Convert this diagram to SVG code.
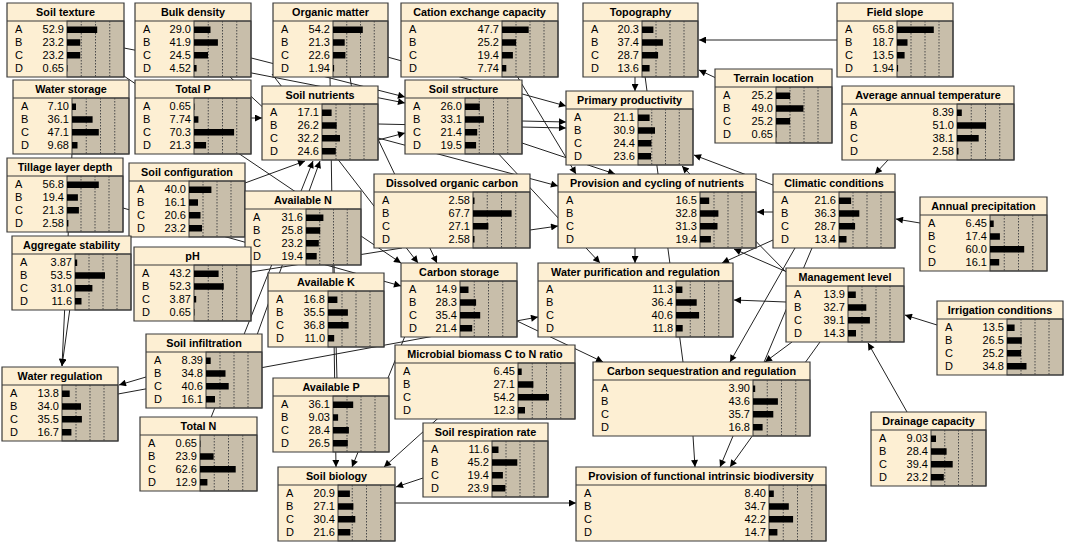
<svg xmlns="http://www.w3.org/2000/svg" width="1065" height="544" viewBox="0 0 1065 544">
<style>
.box{fill:#FDEFD3}
.bg{fill:#C8BEAA;stroke:#3a3a3a;stroke-width:1}
.grid{stroke:#4a4a4a;stroke-width:1;stroke-dasharray:1.5 1.5;fill:none}
.bar{fill:#000}
.bdr{fill:none;stroke:#3a3a3a;stroke-width:1.2}
.t{font-family:"Liberation Sans",Arial,sans-serif;font-weight:bold;font-size:10.8px;text-anchor:middle;fill:#000}
.s{font-family:"Liberation Sans",Arial,sans-serif;font-size:11px;fill:#000}
.n{font-family:"Liberation Sans",Arial,sans-serif;font-size:11px;text-anchor:end;fill:#000}
.c{stroke:#222;stroke-width:1;fill:none}
.a{marker-end:url(#ah)}
</style>
<defs>
<marker id="ah" viewBox="0 0 10 10" refX="10" refY="5" markerWidth="9" markerHeight="7" markerUnits="userSpaceOnUse" orient="auto"><path d="M0,0L10,5L0,10z" fill="#000"/></marker>
</defs>
<rect width="1065" height="544" fill="#fff"/>
<g id="connectors">
<path class="c a" d="M837 40L699 40"/>
<path class="c a" d="M716 78L699 70"/>
<path class="c a" d="M635 76L635 91"/>
<path class="c a" d="M773 185L694 155"/>
<path class="c a" d="M888 160L875 174"/>
<path class="c a" d="M920 223L896 219"/>
<path class="c a" d="M773 212L757 212"/>
<path class="c a" d="M773 240L722 263"/>
<path class="c a" d="M787 272L734 249"/>
<path class="c a" d="M786 302L734 300"/>
<path class="c a" d="M937 325L905 315"/>
<path class="c a" d="M907 412L868 343"/>
<path class="c a" d="M795 248L730 362"/>
<path class="c a" d="M792 342L765 362"/>
<path class="c a" d="M812 248L720 467"/>
<path class="c a" d="M820 342L730 467"/>
<path class="c a" d="M693 436L695 467"/>
<path class="c a" d="M395 503L576 503"/>
<path class="c a" d="M423 478L396 487"/>
<path class="c a" d="M445 412L384 467"/>
<path class="c a" d="M330 77L336 467"/>
<path class="c a" d="M405 336L352 467"/>
<path class="c" d="M334 264L337 380"/>
<path class="c a" d="M517 321L603 362"/>
<path class="c a" d="M118 394L538 317"/>
<path class="c a" d="M146 377L119 385"/>
<path class="c a" d="M72 153L62 366"/>
<path class="c a" d="M70 308L62 366"/>
<path class="c a" d="M210 420L313 161"/>
<path class="c a" d="M245 183L305 161"/>
<path class="c a" d="M257 335L320 161"/>
<path class="c a" d="M251 118L262 118"/>
<path class="c a" d="M124 48L405 103"/>
<path class="c a" d="M200 45L405 97"/>
<path class="c a" d="M378 140L405 133"/>
<path class="c a" d="M340 44L566 106"/>
<path class="c a" d="M522 121L566 122"/>
<path class="c a" d="M378 124L566 128"/>
<path class="c a" d="M517 76L576 174"/>
<path class="c a" d="M522 143L615 174"/>
<path class="c a" d="M378 138L558 186"/>
<path class="c a" d="M530 230L558 226"/>
<path class="c a" d="M495 150L600 263"/>
<path class="c a" d="M635 248L635 263"/>
<path class="c a" d="M787 273L682 166"/>
<path class="c" d="M645 76L683 362"/>
<path class="c a" d="M118 72L401 263"/>
<path class="c a" d="M272 74L418 263"/>
<path class="c a" d="M376 135L437 263"/>
<path class="c a" d="M123 208L401 286"/>
<path class="c" d="M251 272L402 248"/>
<path class="c" d="M230 77L268 112"/>
<path class="c" d="M350 77L352 90"/>
</g>

<g id="soil-texture" transform="translate(7,3)">
<rect class="box" width="117" height="74"/>
<rect class="bg" x="60" y="18" width="57" height="56"/>
<path class="grid" d="M74.25 18V74M88.5 18V74M102.75 18V74"/>
<path class="bar" d="M60 23.5h30.2v6.5h-30.2zM60 36.3h13.2v6.5h-13.2zM60 49.1h13.2v6.5h-13.2zM60 61.9h0.4v6.5h-0.4z"/>
<text class="t" x="58.5" y="13.2">Soil texture</text>
<text class="s"><tspan x="8" y="30.2">A</tspan><tspan x="8" y="43">B</tspan><tspan x="8" y="55.8">C</tspan><tspan x="8" y="68.6">D</tspan></text>
<text class="n"><tspan x="57" y="30.2">52.9</tspan><tspan x="57" y="43">23.2</tspan><tspan x="57" y="55.8">23.2</tspan><tspan x="57" y="68.6">0.65</tspan></text>
<path class="bdr" d="M0 0H117V74H0ZM0 18H117"/>
</g>

<g id="bulk-density" transform="translate(135,3)">
<rect class="box" width="116" height="74"/>
<rect class="bg" x="59" y="18" width="57" height="56"/>
<path class="grid" d="M73.25 18V74M87.5 18V74M101.75 18V74"/>
<path class="bar" d="M59 23.5h16.5v6.5h-16.5zM59 36.3h23.9v6.5h-23.9zM59 49.1h14v6.5h-14zM59 61.9h2.6v6.5h-2.6z"/>
<text class="t" x="58" y="13.2">Bulk density</text>
<text class="s"><tspan x="8" y="30.2">A</tspan><tspan x="8" y="43">B</tspan><tspan x="8" y="55.8">C</tspan><tspan x="8" y="68.6">D</tspan></text>
<text class="n"><tspan x="56" y="30.2">29.0</tspan><tspan x="56" y="43">41.9</tspan><tspan x="56" y="55.8">24.5</tspan><tspan x="56" y="68.6">4.52</tspan></text>
<path class="bdr" d="M0 0H116V74H0ZM0 18H116"/>
</g>

<g id="organic-matter" transform="translate(273,3)">
<rect class="box" width="115" height="74"/>
<rect class="bg" x="60" y="18" width="55" height="56"/>
<path class="grid" d="M73.75 18V74M87.5 18V74M101.25 18V74"/>
<path class="bar" d="M60 23.5h29.8v6.5h-29.8zM60 36.3h11.7v6.5h-11.7zM60 49.1h12.4v6.5h-12.4zM60 61.9h1.1v6.5h-1.1z"/>
<text class="t" x="57.5" y="13.2">Organic matter</text>
<text class="s"><tspan x="8" y="30.2">A</tspan><tspan x="8" y="43">B</tspan><tspan x="8" y="55.8">C</tspan><tspan x="8" y="68.6">D</tspan></text>
<text class="n"><tspan x="57" y="30.2">54.2</tspan><tspan x="57" y="43">21.3</tspan><tspan x="57" y="55.8">22.6</tspan><tspan x="57" y="68.6">1.94</tspan></text>
<path class="bdr" d="M0 0H115V74H0ZM0 18H115"/>
</g>

<g id="cation-exchange-capacity" transform="translate(401,3)">
<rect class="box" width="157" height="74"/>
<rect class="bg" x="101" y="18" width="56" height="56"/>
<path class="grid" d="M115 18V74M129 18V74M143 18V74"/>
<path class="bar" d="M101 23.5h26.7v6.5h-26.7zM101 36.3h14.1v6.5h-14.1zM101 49.1h10.9v6.5h-10.9zM101 61.9h4.3v6.5h-4.3z"/>
<text class="t" x="78.5" y="13.2">Cation exchange capacity</text>
<text class="s"><tspan x="8" y="30.2">A</tspan><tspan x="8" y="43">B</tspan><tspan x="8" y="55.8">C</tspan><tspan x="8" y="68.6">D</tspan></text>
<text class="n"><tspan x="98" y="30.2">47.7</tspan><tspan x="98" y="43">25.2</tspan><tspan x="98" y="55.8">19.4</tspan><tspan x="98" y="68.6">7.74</tspan></text>
<path class="bdr" d="M0 0H157V74H0ZM0 18H157"/>
</g>

<g id="topography" transform="translate(583,3)">
<rect class="box" width="115" height="74"/>
<rect class="bg" x="59" y="18" width="56" height="56"/>
<path class="grid" d="M73 18V74M87 18V74M101 18V74"/>
<path class="bar" d="M59 23.5h11.4v6.5h-11.4zM59 36.3h20.9v6.5h-20.9zM59 49.1h16.1v6.5h-16.1zM59 61.9h7.6v6.5h-7.6z"/>
<text class="t" x="57.5" y="13.2">Topography</text>
<text class="s"><tspan x="8" y="30.2">A</tspan><tspan x="8" y="43">B</tspan><tspan x="8" y="55.8">C</tspan><tspan x="8" y="68.6">D</tspan></text>
<text class="n"><tspan x="56" y="30.2">20.3</tspan><tspan x="56" y="43">37.4</tspan><tspan x="56" y="55.8">28.7</tspan><tspan x="56" y="68.6">13.6</tspan></text>
<path class="bdr" d="M0 0H115V74H0ZM0 18H115"/>
</g>

<g id="field-slope" transform="translate(837,3)">
<rect class="box" width="116" height="74"/>
<rect class="bg" x="60" y="18" width="56" height="56"/>
<path class="grid" d="M74 18V74M88 18V74M102 18V74"/>
<path class="bar" d="M60 23.5h36.8v6.5h-36.8zM60 36.3h10.5v6.5h-10.5zM60 49.1h7.6v6.5h-7.6zM60 61.9h1.1v6.5h-1.1z"/>
<text class="t" x="58" y="13.2">Field slope</text>
<text class="s"><tspan x="8" y="30.2">A</tspan><tspan x="8" y="43">B</tspan><tspan x="8" y="55.8">C</tspan><tspan x="8" y="68.6">D</tspan></text>
<text class="n"><tspan x="57" y="30.2">65.8</tspan><tspan x="57" y="43">18.7</tspan><tspan x="57" y="55.8">13.5</tspan><tspan x="57" y="68.6">1.94</tspan></text>
<path class="bdr" d="M0 0H116V74H0ZM0 18H116"/>
</g>

<g id="terrain-location" transform="translate(715,69)">
<rect class="box" width="117" height="74"/>
<rect class="bg" x="61" y="18" width="56" height="56"/>
<path class="grid" d="M75 18V74M89 18V74M103 18V74"/>
<path class="bar" d="M61 23.5h14.1v6.5h-14.1zM61 36.3h27.4v6.5h-27.4zM61 49.1h14.1v6.5h-14.1zM61 61.9h0.4v6.5h-0.4z"/>
<text class="t" x="58.5" y="13.2">Terrain location</text>
<text class="s"><tspan x="8" y="30.2">A</tspan><tspan x="8" y="43">B</tspan><tspan x="8" y="55.8">C</tspan><tspan x="8" y="68.6">D</tspan></text>
<text class="n"><tspan x="58" y="30.2">25.2</tspan><tspan x="58" y="43">49.0</tspan><tspan x="58" y="55.8">25.2</tspan><tspan x="58" y="68.6">0.65</tspan></text>
<path class="bdr" d="M0 0H117V74H0ZM0 18H117"/>
</g>

<g id="average-annual-temperature" transform="translate(842,86)">
<rect class="box" width="172" height="74"/>
<rect class="bg" x="115" y="18" width="57" height="56"/>
<path class="grid" d="M129.25 18V74M143.5 18V74M157.75 18V74"/>
<path class="bar" d="M115 23.5h4.8v6.5h-4.8zM115 36.3h29.1v6.5h-29.1zM115 49.1h21.7v6.5h-21.7zM115 61.9h1.5v6.5h-1.5z"/>
<text class="t" x="86" y="13.2">Average annual temperature</text>
<text class="s"><tspan x="8" y="30.2">A</tspan><tspan x="8" y="43">B</tspan><tspan x="8" y="55.8">C</tspan><tspan x="8" y="68.6">D</tspan></text>
<text class="n"><tspan x="112" y="30.2">8.39</tspan><tspan x="112" y="43">51.0</tspan><tspan x="112" y="55.8">38.1</tspan><tspan x="112" y="68.6">2.58</tspan></text>
<path class="bdr" d="M0 0H172V74H0ZM0 18H172"/>
</g>

<g id="water-storage" transform="translate(13,80)">
<rect class="box" width="116" height="74"/>
<rect class="bg" x="59" y="18" width="57" height="56"/>
<path class="grid" d="M73.25 18V74M87.5 18V74M101.75 18V74"/>
<path class="bar" d="M59 23.5h4v6.5h-4zM59 36.3h20.6v6.5h-20.6zM59 49.1h26.8v6.5h-26.8zM59 61.9h5.5v6.5h-5.5z"/>
<text class="t" x="58" y="13.2">Water storage</text>
<text class="s"><tspan x="8" y="30.2">A</tspan><tspan x="8" y="43">B</tspan><tspan x="8" y="55.8">C</tspan><tspan x="8" y="68.6">D</tspan></text>
<text class="n"><tspan x="56" y="30.2">7.10</tspan><tspan x="56" y="43">36.1</tspan><tspan x="56" y="55.8">47.1</tspan><tspan x="56" y="68.6">9.68</tspan></text>
<path class="bdr" d="M0 0H116V74H0ZM0 18H116"/>
</g>

<g id="total-p" transform="translate(135,80)">
<rect class="box" width="116" height="74"/>
<rect class="bg" x="59" y="18" width="57" height="56"/>
<path class="grid" d="M73.25 18V74M87.5 18V74M101.75 18V74"/>
<path class="bar" d="M59 23.5h0.4v6.5h-0.4zM59 36.3h4.4v6.5h-4.4zM59 49.1h40.1v6.5h-40.1zM59 61.9h12.1v6.5h-12.1z"/>
<text class="t" x="58" y="13.2">Total P</text>
<text class="s"><tspan x="8" y="30.2">A</tspan><tspan x="8" y="43">B</tspan><tspan x="8" y="55.8">C</tspan><tspan x="8" y="68.6">D</tspan></text>
<text class="n"><tspan x="56" y="30.2">0.65</tspan><tspan x="56" y="43">7.74</tspan><tspan x="56" y="55.8">70.3</tspan><tspan x="56" y="68.6">21.3</tspan></text>
<path class="bdr" d="M0 0H116V74H0ZM0 18H116"/>
</g>

<g id="soil-nutrients" transform="translate(262,86)">
<rect class="box" width="116" height="74"/>
<rect class="bg" x="60" y="18" width="56" height="56"/>
<path class="grid" d="M74 18V74M88 18V74M102 18V74"/>
<path class="bar" d="M60 23.5h9.6v6.5h-9.6zM60 36.3h14.7v6.5h-14.7zM60 49.1h18v6.5h-18zM60 61.9h13.8v6.5h-13.8z"/>
<text class="t" x="58" y="13.2">Soil nutrients</text>
<text class="s"><tspan x="8" y="30.2">A</tspan><tspan x="8" y="43">B</tspan><tspan x="8" y="55.8">C</tspan><tspan x="8" y="68.6">D</tspan></text>
<text class="n"><tspan x="57" y="30.2">17.1</tspan><tspan x="57" y="43">26.2</tspan><tspan x="57" y="55.8">32.2</tspan><tspan x="57" y="68.6">24.6</tspan></text>
<path class="bdr" d="M0 0H116V74H0ZM0 18H116"/>
</g>

<g id="soil-structure" transform="translate(405,80)">
<rect class="box" width="117" height="74"/>
<rect class="bg" x="60" y="18" width="57" height="56"/>
<path class="grid" d="M74.25 18V74M88.5 18V74M102.75 18V74"/>
<path class="bar" d="M60 23.5h14.8v6.5h-14.8zM60 36.3h18.9v6.5h-18.9zM60 49.1h12.2v6.5h-12.2zM60 61.9h11.1v6.5h-11.1z"/>
<text class="t" x="58.5" y="13.2">Soil structure</text>
<text class="s"><tspan x="8" y="30.2">A</tspan><tspan x="8" y="43">B</tspan><tspan x="8" y="55.8">C</tspan><tspan x="8" y="68.6">D</tspan></text>
<text class="n"><tspan x="57" y="30.2">26.0</tspan><tspan x="57" y="43">33.1</tspan><tspan x="57" y="55.8">21.4</tspan><tspan x="57" y="68.6">19.5</tspan></text>
<path class="bdr" d="M0 0H117V74H0ZM0 18H117"/>
</g>

<g id="primary-productivity" transform="translate(566,91)">
<rect class="box" width="127" height="74"/>
<rect class="bg" x="72" y="18" width="55" height="56"/>
<path class="grid" d="M85.75 18V74M99.5 18V74M113.25 18V74"/>
<path class="bar" d="M72 23.5h11.6v6.5h-11.6zM72 36.3h17v6.5h-17zM72 49.1h13.4v6.5h-13.4zM72 61.9h13v6.5h-13z"/>
<text class="t" x="63.5" y="13.2">Primary productivity</text>
<text class="s"><tspan x="8" y="30.2">A</tspan><tspan x="8" y="43">B</tspan><tspan x="8" y="55.8">C</tspan><tspan x="8" y="68.6">D</tspan></text>
<text class="n"><tspan x="69" y="30.2">21.1</tspan><tspan x="69" y="43">30.9</tspan><tspan x="69" y="55.8">24.4</tspan><tspan x="69" y="68.6">23.6</tspan></text>
<path class="bdr" d="M0 0H127V74H0ZM0 18H127"/>
</g>

<g id="tillage-layer-depth" transform="translate(7,158)">
<rect class="box" width="116" height="74"/>
<rect class="bg" x="60" y="18" width="56" height="56"/>
<path class="grid" d="M74 18V74M88 18V74M102 18V74"/>
<path class="bar" d="M60 23.5h31.8v6.5h-31.8zM60 36.3h10.9v6.5h-10.9zM60 49.1h11.9v6.5h-11.9zM60 61.9h1.4v6.5h-1.4z"/>
<text class="t" x="58" y="13.2">Tillage layer depth</text>
<text class="s"><tspan x="8" y="30.2">A</tspan><tspan x="8" y="43">B</tspan><tspan x="8" y="55.8">C</tspan><tspan x="8" y="68.6">D</tspan></text>
<text class="n"><tspan x="57" y="30.2">56.8</tspan><tspan x="57" y="43">19.4</tspan><tspan x="57" y="55.8">21.3</tspan><tspan x="57" y="68.6">2.58</tspan></text>
<path class="bdr" d="M0 0H116V74H0ZM0 18H116"/>
</g>

<g id="soil-configuration" transform="translate(129,163)">
<rect class="box" width="116" height="74"/>
<rect class="bg" x="60" y="18" width="56" height="56"/>
<path class="grid" d="M74 18V74M88 18V74M102 18V74"/>
<path class="bar" d="M60 23.5h22.4v6.5h-22.4zM60 36.3h9v6.5h-9zM60 49.1h11.5v6.5h-11.5zM60 61.9h13v6.5h-13z"/>
<text class="t" x="58" y="13.2">Soil configuration</text>
<text class="s"><tspan x="8" y="30.2">A</tspan><tspan x="8" y="43">B</tspan><tspan x="8" y="55.8">C</tspan><tspan x="8" y="68.6">D</tspan></text>
<text class="n"><tspan x="57" y="30.2">40.0</tspan><tspan x="57" y="43">16.1</tspan><tspan x="57" y="55.8">20.6</tspan><tspan x="57" y="68.6">23.2</tspan></text>
<path class="bdr" d="M0 0H116V74H0ZM0 18H116"/>
</g>

<g id="available-n" transform="translate(245,191)">
<rect class="box" width="116" height="74"/>
<rect class="bg" x="61" y="18" width="55" height="56"/>
<path class="grid" d="M74.75 18V74M88.5 18V74M102.25 18V74"/>
<path class="bar" d="M61 23.5h17.4v6.5h-17.4zM61 36.3h14.2v6.5h-14.2zM61 49.1h12.8v6.5h-12.8zM61 61.9h10.7v6.5h-10.7z"/>
<text class="t" x="58" y="13.2">Available N</text>
<text class="s"><tspan x="8" y="30.2">A</tspan><tspan x="8" y="43">B</tspan><tspan x="8" y="55.8">C</tspan><tspan x="8" y="68.6">D</tspan></text>
<text class="n"><tspan x="58" y="30.2">31.6</tspan><tspan x="58" y="43">25.8</tspan><tspan x="58" y="55.8">23.2</tspan><tspan x="58" y="68.6">19.4</tspan></text>
<path class="bdr" d="M0 0H116V74H0ZM0 18H116"/>
</g>

<g id="aggregate-stability" transform="translate(12,236)">
<rect class="box" width="119" height="74"/>
<rect class="bg" x="63" y="18" width="56" height="56"/>
<path class="grid" d="M77 18V74M91 18V74M105 18V74"/>
<path class="bar" d="M63 23.5h2.2v6.5h-2.2zM63 36.3h30v6.5h-30zM63 49.1h17.4v6.5h-17.4zM63 61.9h6.5v6.5h-6.5z"/>
<text class="t" x="59.5" y="13.2">Aggregate stability</text>
<text class="s"><tspan x="8" y="30.2">A</tspan><tspan x="8" y="43">B</tspan><tspan x="8" y="55.8">C</tspan><tspan x="8" y="68.6">D</tspan></text>
<text class="n"><tspan x="60" y="30.2">3.87</tspan><tspan x="60" y="43">53.5</tspan><tspan x="60" y="55.8">31.0</tspan><tspan x="60" y="68.6">11.6</tspan></text>
<path class="bdr" d="M0 0H119V74H0ZM0 18H119"/>
</g>

<g id="ph" transform="translate(134,247)">
<rect class="box" width="117" height="74"/>
<rect class="bg" x="60" y="18" width="57" height="56"/>
<path class="grid" d="M74.25 18V74M88.5 18V74M102.75 18V74"/>
<path class="bar" d="M60 23.5h24.6v6.5h-24.6zM60 36.3h29.8v6.5h-29.8zM60 49.1h2.2v6.5h-2.2zM60 61.9h0.4v6.5h-0.4z"/>
<text class="t" x="58.5" y="13.2">pH</text>
<text class="s"><tspan x="8" y="30.2">A</tspan><tspan x="8" y="43">B</tspan><tspan x="8" y="55.8">C</tspan><tspan x="8" y="68.6">D</tspan></text>
<text class="n"><tspan x="57" y="30.2">43.2</tspan><tspan x="57" y="43">52.3</tspan><tspan x="57" y="55.8">3.87</tspan><tspan x="57" y="68.6">0.65</tspan></text>
<path class="bdr" d="M0 0H117V74H0ZM0 18H117"/>
</g>

<g id="available-k" transform="translate(268,273)">
<rect class="box" width="116" height="74"/>
<rect class="bg" x="60" y="18" width="56" height="56"/>
<path class="grid" d="M74 18V74M88 18V74M102 18V74"/>
<path class="bar" d="M60 23.5h9.4v6.5h-9.4zM60 36.3h19.9v6.5h-19.9zM60 49.1h20.6v6.5h-20.6zM60 61.9h6.2v6.5h-6.2z"/>
<text class="t" x="58" y="13.2">Available K</text>
<text class="s"><tspan x="8" y="30.2">A</tspan><tspan x="8" y="43">B</tspan><tspan x="8" y="55.8">C</tspan><tspan x="8" y="68.6">D</tspan></text>
<text class="n"><tspan x="57" y="30.2">16.8</tspan><tspan x="57" y="43">35.5</tspan><tspan x="57" y="55.8">36.8</tspan><tspan x="57" y="68.6">11.0</tspan></text>
<path class="bdr" d="M0 0H116V74H0ZM0 18H116"/>
</g>

<g id="dissolved-organic-carbon" transform="translate(374,174)">
<rect class="box" width="156" height="74"/>
<rect class="bg" x="99" y="18" width="57" height="56"/>
<path class="grid" d="M113.25 18V74M127.5 18V74M141.75 18V74"/>
<path class="bar" d="M99 23.5h1.5v6.5h-1.5zM99 36.3h38.6v6.5h-38.6zM99 49.1h15.4v6.5h-15.4zM99 61.9h1.5v6.5h-1.5z"/>
<text class="t" x="78" y="13.2">Dissolved organic carbon</text>
<text class="s"><tspan x="8" y="30.2">A</tspan><tspan x="8" y="43">B</tspan><tspan x="8" y="55.8">C</tspan><tspan x="8" y="68.6">D</tspan></text>
<text class="n"><tspan x="96" y="30.2">2.58</tspan><tspan x="96" y="43">67.7</tspan><tspan x="96" y="55.8">27.1</tspan><tspan x="96" y="68.6">2.58</tspan></text>
<path class="bdr" d="M0 0H156V74H0ZM0 18H156"/>
</g>

<g id="provision-cycling-nutrients" transform="translate(558,174)">
<rect class="box" width="198" height="74"/>
<rect class="bg" x="142" y="18" width="56" height="56"/>
<path class="grid" d="M156 18V74M170 18V74M184 18V74"/>
<path class="bar" d="M142 23.5h9.2v6.5h-9.2zM142 36.3h18.4v6.5h-18.4zM142 49.1h17.5v6.5h-17.5zM142 61.9h10.9v6.5h-10.9z"/>
<text class="t" x="99" y="13.2">Provision and cycling of nutrients</text>
<text class="s"><tspan x="8" y="30.2">A</tspan><tspan x="8" y="43">B</tspan><tspan x="8" y="55.8">C</tspan><tspan x="8" y="68.6">D</tspan></text>
<text class="n"><tspan x="139" y="30.2">16.5</tspan><tspan x="139" y="43">32.8</tspan><tspan x="139" y="55.8">31.3</tspan><tspan x="139" y="68.6">19.4</tspan></text>
<path class="bdr" d="M0 0H198V74H0ZM0 18H198"/>
</g>

<g id="carbon-storage" transform="translate(401,263)">
<rect class="box" width="116" height="74"/>
<rect class="bg" x="59" y="18" width="57" height="56"/>
<path class="grid" d="M73.25 18V74M87.5 18V74M101.75 18V74"/>
<path class="bar" d="M59 23.5h8.5v6.5h-8.5zM59 36.3h16.1v6.5h-16.1zM59 49.1h20.2v6.5h-20.2zM59 61.9h12.2v6.5h-12.2z"/>
<text class="t" x="58" y="13.2">Carbon storage</text>
<text class="s"><tspan x="8" y="30.2">A</tspan><tspan x="8" y="43">B</tspan><tspan x="8" y="55.8">C</tspan><tspan x="8" y="68.6">D</tspan></text>
<text class="n"><tspan x="56" y="30.2">14.9</tspan><tspan x="56" y="43">28.3</tspan><tspan x="56" y="55.8">35.4</tspan><tspan x="56" y="68.6">21.4</tspan></text>
<path class="bdr" d="M0 0H116V74H0ZM0 18H116"/>
</g>

<g id="water-purification-regulation" transform="translate(538,263)">
<rect class="box" width="195" height="74"/>
<rect class="bg" x="138" y="18" width="57" height="56"/>
<path class="grid" d="M152.25 18V74M166.5 18V74M180.75 18V74"/>
<path class="bar" d="M138 23.5h6.4v6.5h-6.4zM138 36.3h20.7v6.5h-20.7zM138 49.1h23.1v6.5h-23.1zM138 61.9h6.7v6.5h-6.7z"/>
<text class="t" x="97.5" y="13.2">Water purification and regulation</text>
<text class="s"><tspan x="8" y="30.2">A</tspan><tspan x="8" y="43">B</tspan><tspan x="8" y="55.8">C</tspan><tspan x="8" y="68.6">D</tspan></text>
<text class="n"><tspan x="135" y="30.2">11.3</tspan><tspan x="135" y="43">36.4</tspan><tspan x="135" y="55.8">40.6</tspan><tspan x="135" y="68.6">11.8</tspan></text>
<path class="bdr" d="M0 0H195V74H0ZM0 18H195"/>
</g>

<g id="climatic-conditions" transform="translate(773,174)">
<rect class="box" width="122" height="74"/>
<rect class="bg" x="66" y="18" width="56" height="56"/>
<path class="grid" d="M80 18V74M94 18V74M108 18V74"/>
<path class="bar" d="M66 23.5h12.1v6.5h-12.1zM66 36.3h20.3v6.5h-20.3zM66 49.1h16.1v6.5h-16.1zM66 61.9h7.5v6.5h-7.5z"/>
<text class="t" x="61" y="13.2">Climatic conditions</text>
<text class="s"><tspan x="8" y="30.2">A</tspan><tspan x="8" y="43">B</tspan><tspan x="8" y="55.8">C</tspan><tspan x="8" y="68.6">D</tspan></text>
<text class="n"><tspan x="63" y="30.2">21.6</tspan><tspan x="63" y="43">36.3</tspan><tspan x="63" y="55.8">28.7</tspan><tspan x="63" y="68.6">13.4</tspan></text>
<path class="bdr" d="M0 0H122V74H0ZM0 18H122"/>
</g>

<g id="annual-precipitation" transform="translate(920,197)">
<rect class="box" width="127" height="74"/>
<rect class="bg" x="70" y="18" width="57" height="56"/>
<path class="grid" d="M84.25 18V74M98.5 18V74M112.75 18V74"/>
<path class="bar" d="M70 23.5h3.7v6.5h-3.7zM70 36.3h9.9v6.5h-9.9zM70 49.1h34.2v6.5h-34.2zM70 61.9h9.2v6.5h-9.2z"/>
<text class="t" x="63.5" y="13.2">Annual precipitation</text>
<text class="s"><tspan x="8" y="30.2">A</tspan><tspan x="8" y="43">B</tspan><tspan x="8" y="55.8">C</tspan><tspan x="8" y="68.6">D</tspan></text>
<text class="n"><tspan x="67" y="30.2">6.45</tspan><tspan x="67" y="43">17.4</tspan><tspan x="67" y="55.8">60.0</tspan><tspan x="67" y="68.6">16.1</tspan></text>
<path class="bdr" d="M0 0H127V74H0ZM0 18H127"/>
</g>

<g id="management-level" transform="translate(786,268)">
<rect class="box" width="118" height="74"/>
<rect class="bg" x="62" y="18" width="56" height="56"/>
<path class="grid" d="M76 18V74M90 18V74M104 18V74"/>
<path class="bar" d="M62 23.5h7.8v6.5h-7.8zM62 36.3h18.3v6.5h-18.3zM62 49.1h21.9v6.5h-21.9zM62 61.9h8v6.5h-8z"/>
<text class="t" x="59" y="13.2">Management level</text>
<text class="s"><tspan x="8" y="30.2">A</tspan><tspan x="8" y="43">B</tspan><tspan x="8" y="55.8">C</tspan><tspan x="8" y="68.6">D</tspan></text>
<text class="n"><tspan x="59" y="30.2">13.9</tspan><tspan x="59" y="43">32.7</tspan><tspan x="59" y="55.8">39.1</tspan><tspan x="59" y="68.6">14.3</tspan></text>
<path class="bdr" d="M0 0H118V74H0ZM0 18H118"/>
</g>

<g id="irrigation-conditions" transform="translate(937,301)">
<rect class="box" width="126" height="74"/>
<rect class="bg" x="70" y="18" width="56" height="56"/>
<path class="grid" d="M84 18V74M98 18V74M112 18V74"/>
<path class="bar" d="M70 23.5h7.6v6.5h-7.6zM70 36.3h14.8v6.5h-14.8zM70 49.1h14.1v6.5h-14.1zM70 61.9h19.5v6.5h-19.5z"/>
<text class="t" x="63" y="13.2">Irrigation conditions</text>
<text class="s"><tspan x="8" y="30.2">A</tspan><tspan x="8" y="43">B</tspan><tspan x="8" y="55.8">C</tspan><tspan x="8" y="68.6">D</tspan></text>
<text class="n"><tspan x="67" y="30.2">13.5</tspan><tspan x="67" y="43">26.5</tspan><tspan x="67" y="55.8">25.2</tspan><tspan x="67" y="68.6">34.8</tspan></text>
<path class="bdr" d="M0 0H126V74H0ZM0 18H126"/>
</g>

<g id="soil-infiltration" transform="translate(146,334)">
<rect class="box" width="116" height="74"/>
<rect class="bg" x="60" y="18" width="56" height="56"/>
<path class="grid" d="M74 18V74M88 18V74M102 18V74"/>
<path class="bar" d="M60 23.5h4.7v6.5h-4.7zM60 36.3h19.5v6.5h-19.5zM60 49.1h22.7v6.5h-22.7zM60 61.9h9v6.5h-9z"/>
<text class="t" x="58" y="13.2">Soil infiltration</text>
<text class="s"><tspan x="8" y="30.2">A</tspan><tspan x="8" y="43">B</tspan><tspan x="8" y="55.8">C</tspan><tspan x="8" y="68.6">D</tspan></text>
<text class="n"><tspan x="57" y="30.2">8.39</tspan><tspan x="57" y="43">34.8</tspan><tspan x="57" y="55.8">40.6</tspan><tspan x="57" y="68.6">16.1</tspan></text>
<path class="bdr" d="M0 0H116V74H0ZM0 18H116"/>
</g>

<g id="water-regulation" transform="translate(2,367)">
<rect class="box" width="116" height="74"/>
<rect class="bg" x="60" y="18" width="56" height="56"/>
<path class="grid" d="M74 18V74M88 18V74M102 18V74"/>
<path class="bar" d="M60 23.5h7.7v6.5h-7.7zM60 36.3h19v6.5h-19zM60 49.1h19.9v6.5h-19.9zM60 61.9h9.4v6.5h-9.4z"/>
<text class="t" x="58" y="13.2">Water regulation</text>
<text class="s"><tspan x="8" y="30.2">A</tspan><tspan x="8" y="43">B</tspan><tspan x="8" y="55.8">C</tspan><tspan x="8" y="68.6">D</tspan></text>
<text class="n"><tspan x="57" y="30.2">13.8</tspan><tspan x="57" y="43">34.0</tspan><tspan x="57" y="55.8">35.5</tspan><tspan x="57" y="68.6">16.7</tspan></text>
<path class="bdr" d="M0 0H116V74H0ZM0 18H116"/>
</g>

<g id="total-n" transform="translate(140,417)">
<rect class="box" width="117" height="74"/>
<rect class="bg" x="60" y="18" width="57" height="56"/>
<path class="grid" d="M74.25 18V74M88.5 18V74M102.75 18V74"/>
<path class="bar" d="M60 23.5h0.4v6.5h-0.4zM60 36.3h13.6v6.5h-13.6zM60 49.1h35.7v6.5h-35.7zM60 61.9h7.4v6.5h-7.4z"/>
<text class="t" x="58.5" y="13.2">Total N</text>
<text class="s"><tspan x="8" y="30.2">A</tspan><tspan x="8" y="43">B</tspan><tspan x="8" y="55.8">C</tspan><tspan x="8" y="68.6">D</tspan></text>
<text class="n"><tspan x="57" y="30.2">0.65</tspan><tspan x="57" y="43">23.9</tspan><tspan x="57" y="55.8">62.6</tspan><tspan x="57" y="68.6">12.9</tspan></text>
<path class="bdr" d="M0 0H117V74H0ZM0 18H117"/>
</g>

<g id="available-p" transform="translate(273,378)">
<rect class="box" width="116" height="74"/>
<rect class="bg" x="60" y="18" width="56" height="56"/>
<path class="grid" d="M74 18V74M88 18V74M102 18V74"/>
<path class="bar" d="M60 23.5h20.2v6.5h-20.2zM60 36.3h5.1v6.5h-5.1zM60 49.1h15.9v6.5h-15.9zM60 61.9h14.8v6.5h-14.8z"/>
<text class="t" x="58" y="13.2">Available P</text>
<text class="s"><tspan x="8" y="30.2">A</tspan><tspan x="8" y="43">B</tspan><tspan x="8" y="55.8">C</tspan><tspan x="8" y="68.6">D</tspan></text>
<text class="n"><tspan x="57" y="30.2">36.1</tspan><tspan x="57" y="43">9.03</tspan><tspan x="57" y="55.8">28.4</tspan><tspan x="57" y="68.6">26.5</tspan></text>
<path class="bdr" d="M0 0H116V74H0ZM0 18H116"/>
</g>

<g id="soil-biology" transform="translate(278,467)">
<rect class="box" width="117" height="74"/>
<rect class="bg" x="60" y="18" width="57" height="56"/>
<path class="grid" d="M74.25 18V74M88.5 18V74M102.75 18V74"/>
<path class="bar" d="M60 23.5h11.9v6.5h-11.9zM60 36.3h15.4v6.5h-15.4zM60 49.1h17.3v6.5h-17.3zM60 61.9h12.3v6.5h-12.3z"/>
<text class="t" x="58.5" y="13.2">Soil biology</text>
<text class="s"><tspan x="8" y="30.2">A</tspan><tspan x="8" y="43">B</tspan><tspan x="8" y="55.8">C</tspan><tspan x="8" y="68.6">D</tspan></text>
<text class="n"><tspan x="57" y="30.2">20.9</tspan><tspan x="57" y="43">27.1</tspan><tspan x="57" y="55.8">30.4</tspan><tspan x="57" y="68.6">21.6</tspan></text>
<path class="bdr" d="M0 0H117V74H0ZM0 18H117"/>
</g>

<g id="microbial-biomass-c-n" transform="translate(395,345)">
<rect class="box" width="180" height="74"/>
<rect class="bg" x="123" y="18" width="57" height="56"/>
<path class="grid" d="M137.25 18V74M151.5 18V74M165.75 18V74"/>
<path class="bar" d="M123 23.5h3.7v6.5h-3.7zM123 36.3h15.4v6.5h-15.4zM123 49.1h30.9v6.5h-30.9zM123 61.9h7v6.5h-7z"/>
<text class="t" x="90" y="13.2">Microbial biomass C to N ratio</text>
<text class="s"><tspan x="8" y="30.2">A</tspan><tspan x="8" y="43">B</tspan><tspan x="8" y="55.8">C</tspan><tspan x="8" y="68.6">D</tspan></text>
<text class="n"><tspan x="120" y="30.2">6.45</tspan><tspan x="120" y="43">27.1</tspan><tspan x="120" y="55.8">54.2</tspan><tspan x="120" y="68.6">12.3</tspan></text>
<path class="bdr" d="M0 0H180V74H0ZM0 18H180"/>
</g>

<g id="soil-respiration-rate" transform="translate(423,423)">
<rect class="box" width="125" height="74"/>
<rect class="bg" x="69" y="18" width="56" height="56"/>
<path class="grid" d="M83 18V74M97 18V74M111 18V74"/>
<path class="bar" d="M69 23.5h6.5v6.5h-6.5zM69 36.3h25.3v6.5h-25.3zM69 49.1h10.9v6.5h-10.9zM69 61.9h13.4v6.5h-13.4z"/>
<text class="t" x="62.5" y="13.2">Soil respiration rate</text>
<text class="s"><tspan x="8" y="30.2">A</tspan><tspan x="8" y="43">B</tspan><tspan x="8" y="55.8">C</tspan><tspan x="8" y="68.6">D</tspan></text>
<text class="n"><tspan x="66" y="30.2">11.6</tspan><tspan x="66" y="43">45.2</tspan><tspan x="66" y="55.8">19.4</tspan><tspan x="66" y="68.6">23.9</tspan></text>
<path class="bdr" d="M0 0H125V74H0ZM0 18H125"/>
</g>

<g id="carbon-sequestration-regulation" transform="translate(593,362)">
<rect class="box" width="217" height="74"/>
<rect class="bg" x="160" y="18" width="57" height="56"/>
<path class="grid" d="M174.25 18V74M188.5 18V74M202.75 18V74"/>
<path class="bar" d="M160 23.5h2.2v6.5h-2.2zM160 36.3h24.9v6.5h-24.9zM160 49.1h20.3v6.5h-20.3zM160 61.9h9.6v6.5h-9.6z"/>
<text class="t" x="108.5" y="13.2">Carbon sequestration and regulation</text>
<text class="s"><tspan x="8" y="30.2">A</tspan><tspan x="8" y="43">B</tspan><tspan x="8" y="55.8">C</tspan><tspan x="8" y="68.6">D</tspan></text>
<text class="n"><tspan x="157" y="30.2">3.90</tspan><tspan x="157" y="43">43.6</tspan><tspan x="157" y="55.8">35.7</tspan><tspan x="157" y="68.6">16.8</tspan></text>
<path class="bdr" d="M0 0H217V74H0ZM0 18H217"/>
</g>

<g id="provision-functional-biodiversity" transform="translate(576,467)">
<rect class="box" width="250" height="74"/>
<rect class="bg" x="193" y="18" width="57" height="56"/>
<path class="grid" d="M207.25 18V74M221.5 18V74M235.75 18V74"/>
<path class="bar" d="M193 23.5h4.8v6.5h-4.8zM193 36.3h19.8v6.5h-19.8zM193 49.1h24.1v6.5h-24.1zM193 61.9h8.4v6.5h-8.4z"/>
<text class="t" x="125" y="13.2">Provision of functional intrinsic biodiversity</text>
<text class="s"><tspan x="8" y="30.2">A</tspan><tspan x="8" y="43">B</tspan><tspan x="8" y="55.8">C</tspan><tspan x="8" y="68.6">D</tspan></text>
<text class="n"><tspan x="190" y="30.2">8.40</tspan><tspan x="190" y="43">34.7</tspan><tspan x="190" y="55.8">42.2</tspan><tspan x="190" y="68.6">14.7</tspan></text>
<path class="bdr" d="M0 0H250V74H0ZM0 18H250"/>
</g>

<g id="drainage-capacity" transform="translate(871,412)">
<rect class="box" width="115" height="74"/>
<rect class="bg" x="60" y="18" width="55" height="56"/>
<path class="grid" d="M73.75 18V74M87.5 18V74M101.25 18V74"/>
<path class="bar" d="M60 23.5h5v6.5h-5zM60 36.3h15.6v6.5h-15.6zM60 49.1h21.7v6.5h-21.7zM60 61.9h12.8v6.5h-12.8z"/>
<text class="t" x="57.5" y="13.2">Drainage capacity</text>
<text class="s"><tspan x="8" y="30.2">A</tspan><tspan x="8" y="43">B</tspan><tspan x="8" y="55.8">C</tspan><tspan x="8" y="68.6">D</tspan></text>
<text class="n"><tspan x="57" y="30.2">9.03</tspan><tspan x="57" y="43">28.4</tspan><tspan x="57" y="55.8">39.4</tspan><tspan x="57" y="68.6">23.2</tspan></text>
<path class="bdr" d="M0 0H115V74H0ZM0 18H115"/>
</g>
</svg>
